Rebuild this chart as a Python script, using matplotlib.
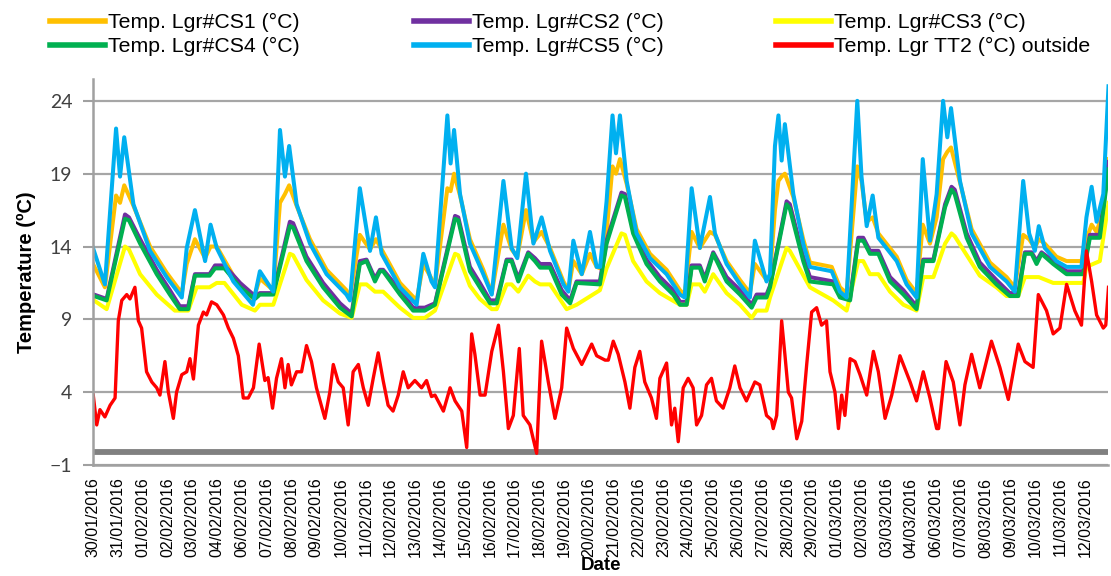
import matplotlib.pyplot as plt
from matplotlib.lines import Line2D

# x in days after the 30/01/2016 tick (one category tick per label)
date_labels = ["30/01/2016", "31/01/2016", "01/02/2016", "02/02/2016", "03/02/2016",
               "04/02/2016", "06/02/2016", "07/02/2016", "08/02/2016", "09/02/2016",
               "10/02/2016", "11/02/2016", "12/02/2016", "13/02/2016", "14/02/2016",
               "15/02/2016", "16/02/2016", "17/02/2016", "18/02/2016", "19/02/2016",
               "20/02/2016", "21/02/2016", "22/02/2016", "23/02/2016", "24/02/2016",
               "25/02/2016", "26/02/2016", "27/02/2016", "28/02/2016", "29/02/2016",
               "01/03/2016", "02/03/2016", "03/03/2016", "04/03/2016", "06/03/2016",
               "07/03/2016", "08/03/2016", "09/03/2016", "10/03/2016", "11/03/2016",
               "12/03/2016"]

# CS5 (blue) and CS1 (orange) share the same sample times
t_cs15 = [0.00, 0.48, 0.93, 1.09, 1.26, 1.63, 2.30, 2.97, 3.58, 3.78, 4.11, 4.52, 4.74, 4.99,
          5.66, 6.45, 6.73, 7.27, 7.54, 7.74, 7.91, 8.21, 8.75, 9.42, 10.22, 10.36, 10.76,
          11.17, 11.41, 11.64, 12.38, 13.05, 13.32, 13.65, 13.79, 14.29, 14.42, 14.56, 14.80,
          15.20, 15.74, 16.08, 16.55, 16.88, 17.11, 17.46, 17.76, 18.09, 18.43, 18.97, 19.17,
          19.37, 19.71, 20.04, 20.31, 20.45, 20.71, 20.95, 21.09, 21.25, 21.52, 21.92, 22.46,
          23.13, 23.67, 23.86, 24.14, 24.47, 24.88, 25.08, 25.55, 26.09, 26.49, 26.69, 27.16,
          27.30, 27.50, 27.64, 27.77, 27.90, 28.24, 28.64, 28.91, 29.79, 30.12, 30.39, 30.82,
          30.99, 31.20, 31.44, 31.67, 32.41, 32.81, 33.21, 33.46, 33.75, 34.02, 34.28, 34.45,
          34.60, 34.96, 35.43, 36.17, 36.84, 37.17, 37.51, 37.75, 37.98, 38.14, 38.38, 38.85,
          39.26, 39.86, 40.06, 40.27, 40.47, 40.74, 40.95]
cs5 = [13.9, 11.4, 22.1, 18.8, 21.5, 16.9, 13.7, 11.9, 10.5, 13.9, 16.5, 13.0, 15.5, 13.9,
       11.6, 10.0, 12.3, 10.9, 22.0, 18.8, 20.9, 16.9, 14.2, 12.1, 10.7, 10.3, 18.0,
       13.7, 16.0, 13.5, 11.2, 10.0, 13.5, 11.6, 11.2, 23.0, 19.7, 22.0, 17.6,
       14.2, 12.1, 10.7, 18.5, 13.9, 13.2, 19.0, 14.2, 16.0, 13.7, 11.4, 10.9,
       14.4, 12.1, 15.0, 12.6, 12.6, 17.1, 23.0, 20.4, 23.0, 18.5, 14.9, 13.2,
       12.1, 10.7, 10.5, 18.0, 13.9, 17.4, 14.9, 12.8, 11.4, 10.5, 14.4, 11.6,
       12.1, 20.9, 23.0, 19.9, 22.4, 17.6, 14.2, 12.6, 12.3, 10.9, 10.5, 24.0,
       18.8, 15.4, 17.5, 14.6, 13.0, 11.4, 10.5, 20.0, 14.4, 17.6, 24.0, 21.5,
       23.5, 18.5, 14.9, 12.6, 11.6, 10.9, 18.5, 14.9, 13.7, 15.4, 13.9, 13.0,
       12.6, 12.6, 16.0, 18.1, 15.7, 17.6, 25.0]
cs1 = [12.8, 11.2, 17.5, 17.0, 18.2, 16.8, 14.0, 12.2, 10.8, 12.8, 14.5, 13.2, 14.0, 14.0,
       12.0, 10.3, 11.8, 11.0, 17.0, 17.6, 18.2, 16.8, 14.5, 12.4, 11.0, 10.5, 14.8,
       13.8, 14.5, 13.8, 11.5, 10.3, 12.8, 11.8, 11.3, 18.0, 17.8, 19.0, 17.5,
       14.5, 12.4, 10.8, 15.5, 13.8, 13.3, 16.5, 14.3, 15.0, 13.9, 11.6, 11.0,
       13.0, 12.1, 13.5, 12.6, 12.5, 15.0, 19.5, 19.0, 20.0, 18.3, 15.2, 13.5,
       12.4, 11.0, 10.7, 15.0, 13.9, 15.0, 14.8, 13.0, 11.7, 10.8, 12.8, 11.7,
       12.0, 16.5, 18.5, 18.8, 19.0, 17.4, 14.5, 12.9, 12.6, 11.2, 10.8, 19.5,
       18.5, 15.7, 16.0, 14.9, 13.3, 11.7, 10.8, 15.5, 14.2, 16.0, 20.0, 20.5,
       20.8, 18.4, 15.2, 12.9, 11.9, 11.2, 14.8, 14.5, 13.9, 14.5, 14.2, 13.3,
       13.0, 13.0, 14.5, 15.5, 15.0, 16.5, 20.0]

# CS4 (green) and CS2 (purple)
t_cs24 = [0.04, 0.55, 1.29, 1.45, 1.90, 2.57, 3.10, 3.50, 3.84, 4.11, 4.70, 4.92, 5.30, 5.93,
          6.53, 6.73, 7.27, 7.94, 8.07, 8.61, 9.28, 9.96, 10.43, 10.76, 11.03, 11.37, 11.57,
          11.70, 12.38, 12.91, 13.38, 13.79, 14.60, 14.73, 15.20, 15.60, 16.01, 16.28, 16.68,
          16.88, 17.15, 17.55, 17.82, 18.03, 18.43, 18.90, 19.24, 19.50, 20.44, 20.71, 21.31,
          21.45, 21.78, 22.32, 22.86, 23.40, 23.67, 23.94, 24.14, 24.47, 24.67, 25.01, 25.55,
          26.09, 26.56, 26.76, 27.16, 27.30, 27.97, 28.10, 28.64, 28.91, 29.85, 30.12, 30.53,
          30.86, 31.06, 31.33, 31.67, 32.14, 32.68, 33.21, 33.48, 33.89, 34.36, 34.62, 34.75,
          35.23, 35.76, 36.43, 36.97, 37.31, 37.58, 37.85, 38.05, 38.25, 38.72, 39.26, 39.93,
          40.20, 40.60, 40.95]
cs4 = [10.6, 10.3, 15.9, 15.8, 14.2, 12.1, 10.7, 9.7, 9.7, 12.0, 12.0, 12.5, 12.5, 11.2,
       10.4, 10.7, 10.7, 15.4, 15.3, 13.0, 11.2, 9.8, 9.2, 12.8, 13.0, 11.6, 12.3,
       12.3, 10.7, 9.6, 9.6, 10.0, 15.9, 15.8, 12.3, 11.2, 10.1, 10.1, 13.0,
       13.0, 11.6, 13.5, 13.0, 12.55, 12.55, 10.7, 10.1, 11.5, 11.4, 14.2, 17.5,
       17.4, 14.9, 12.8, 11.6, 10.7, 10.0, 10.0, 12.55, 12.55, 11.6, 13.5, 11.6,
       10.7, 9.8, 10.5, 10.5, 11.2, 16.9, 16.6, 13.0, 11.6, 11.4, 10.5, 10.3,
       14.4, 14.4, 13.5, 13.5, 11.6, 10.7, 9.7, 13.0, 13.0, 16.7, 17.9, 17.6,
       14.6, 12.6, 11.4, 10.6, 10.6, 13.5, 13.5, 12.8, 13.5, 12.8, 12.1, 12.1,
       14.6, 14.6, 19.3]
cs2 = [10.7, 10.4, 16.2, 16.0, 14.5, 12.4, 11.0, 9.9, 9.9, 12.1, 12.1, 12.7, 12.7, 11.5,
       10.6, 10.8, 10.8, 15.7, 15.6, 13.3, 11.5, 10.1, 9.4, 13.0, 13.1, 11.8, 12.4,
       12.4, 11.0, 9.8, 9.8, 10.1, 16.1, 16.0, 12.6, 11.5, 10.3, 10.3, 13.1,
       13.1, 11.8, 13.6, 13.2, 12.8, 12.8, 11.0, 10.3, 11.6, 11.6, 14.4, 17.7,
       17.6, 15.2, 13.1, 11.9, 11.0, 10.2, 10.2, 12.7, 12.7, 11.8, 13.6, 11.9,
       11.0, 10.0, 10.7, 10.7, 11.3, 17.1, 16.9, 13.3, 11.9, 11.6, 10.7, 10.5,
       14.6, 14.6, 13.7, 13.7, 11.9, 11.0, 9.9, 13.1, 13.1, 16.9, 18.1, 17.9,
       14.9, 12.9, 11.7, 10.8, 10.8, 13.6, 13.6, 13.0, 13.6, 13.0, 12.3, 12.3,
       14.8, 14.8, 19.8]

# CS3 (yellow)
t_cs3 = [0.04, 0.55, 1.29, 1.45, 1.90, 2.57, 3.30, 3.84, 4.18, 4.70, 4.99, 5.30, 6.00, 6.53,
         6.73, 7.27, 7.94, 8.07, 8.61, 9.28, 9.96, 10.43, 10.76, 11.03, 11.37, 11.70, 12.38,
         12.91, 13.38, 13.79, 14.60, 14.73, 15.20, 15.60, 16.08, 16.28, 16.68, 16.88, 17.15,
         17.55, 17.82, 18.03, 18.43, 19.10, 19.50, 20.44, 20.71, 21.31, 21.45, 21.78, 22.32,
         22.86, 23.67, 23.94, 24.14, 24.47, 24.67, 25.01, 25.55, 26.09, 26.56, 26.76, 27.16,
         27.30, 27.97, 28.10, 28.91, 29.85, 30.39, 30.86, 31.06, 31.33, 31.67, 32.14, 32.68,
         33.21, 33.48, 33.89, 34.36, 34.62, 34.75, 35.76, 36.43, 36.84, 37.31, 37.58, 38.14,
         38.72, 39.93, 40.06, 40.60, 40.95]
cs3 = [10.3, 9.7, 14.0, 13.8, 12.1, 10.7, 9.6, 9.6, 11.2, 11.2, 11.5, 11.5, 10.0, 9.6,
       10.0, 10.0, 13.5, 13.4, 11.7, 10.3, 9.4, 9.1, 11.4, 11.4, 10.9, 10.9, 9.8,
       9.1, 9.1, 9.6, 13.5, 13.4, 11.3, 10.4, 9.7, 9.7, 11.4, 11.4, 10.9,
       12.0, 11.6, 11.4, 11.4, 9.7, 10.0, 11.0, 12.5, 14.9, 14.8, 13.0, 11.6,
       10.8, 10.0, 10.0, 11.4, 11.4, 10.9, 12.1, 10.8, 10.0, 9.1, 9.6, 9.6,
       10.5, 13.9, 13.7, 11.2, 10.3, 9.6, 13.0, 13.0, 12.1, 12.1, 10.9, 10.0,
       9.6, 11.9, 11.9, 14.2, 14.9, 14.7, 12.0, 11.2, 10.6, 10.6, 11.9, 11.9,
       11.5, 11.5, 12.6, 13.0, 17.0]

# TT2 outside (red)
t_out = [0.01, 0.15, 0.28, 0.48, 0.69, 0.89, 1.02, 1.16, 1.36, 1.49, 1.69, 1.83, 1.96, 2.16,
         2.37, 2.57, 2.70, 2.90, 3.04, 3.24, 3.37, 3.58, 3.78, 3.91, 4.05, 4.25, 4.45, 4.58,
         4.78, 4.99, 5.26, 5.46, 5.66, 5.86, 6.06, 6.26, 6.47, 6.70, 6.93, 7.06, 7.24, 7.40,
         7.60, 7.74, 7.87, 8.00, 8.21, 8.41, 8.61, 8.81, 9.01, 9.35, 9.55, 9.69, 9.89, 10.09,
         10.29, 10.49, 10.70, 10.90, 11.10, 11.30, 11.50, 11.70, 11.90, 12.10, 12.31, 12.51,
         12.71, 12.98, 13.25, 13.45, 13.65, 13.79, 14.13, 14.40, 14.60, 14.87, 15.07, 15.27,
         15.40, 15.61, 15.81, 16.08, 16.35, 16.55, 16.75, 16.95, 17.19, 17.35, 17.62, 17.89,
         18.09, 18.36, 18.63, 18.90, 19.10, 19.37, 19.71, 20.11, 20.31, 20.65, 20.78, 20.98,
         21.18, 21.45, 21.65, 21.85, 22.05, 22.25, 22.52, 22.72, 22.86, 23.13, 23.33, 23.46,
         23.60, 23.80, 24.00, 24.20, 24.34, 24.54, 24.74, 24.94, 25.14, 25.41, 25.68, 25.88,
         26.09, 26.35, 26.69, 26.89, 27.16, 27.36, 27.43, 27.57, 27.77, 27.90, 28.04, 28.17,
         28.38, 28.58, 28.78, 28.98, 29.18, 29.38, 29.58, 29.72, 29.92, 30.06, 30.19, 30.32,
         30.53, 30.73, 30.93, 31.20, 31.47, 31.67, 31.94, 32.21, 32.54, 32.95, 33.21, 33.48,
         33.75, 34.02, 34.10, 34.40, 34.69, 34.96, 35.16, 35.43, 35.76, 36.23, 36.57, 36.91,
         37.31, 37.58, 37.91, 38.12, 38.45, 38.72, 38.99, 39.26, 39.59, 39.86, 40.06, 40.27,
         40.47, 40.74, 40.84, 40.95]
tt2 = [3.8, 1.75, 2.8, 2.3, 3.1, 3.6, 8.9, 10.3, 10.7, 10.4, 11.2, 8.9, 8.4, 5.4,
       4.7, 4.3, 3.8, 6.1, 4.0, 2.2, 4.0, 5.2, 5.4, 6.3, 4.9, 8.6, 9.5, 9.3,
       10.2, 10.0, 9.3, 8.4, 7.7, 6.5, 3.6, 3.6, 4.3, 7.3, 4.8, 5.0, 2.9, 4.95,
       6.3, 4.3, 5.9, 4.5, 5.4, 5.4, 7.2, 6.1, 4.3, 2.2, 4.0, 5.9, 4.7, 4.3,
       1.75, 5.4, 5.9, 4.3, 3.1, 4.95, 6.7, 4.8, 3.1, 2.7, 3.8, 5.4,
       4.3, 4.8, 4.3, 4.8, 3.7, 3.8, 2.7, 4.3, 3.4, 2.7, 0.2, 8.0,
       6.6, 3.8, 3.8, 6.8, 8.6, 5.4, 1.5, 2.4, 7.0, 2.4, 1.75, -0.2,
       7.5, 4.7, 2.2, 4.3, 8.4, 7.0, 5.9, 7.3, 6.5, 6.2, 6.2, 7.5,
       6.6, 4.7, 2.9, 5.7, 6.8, 4.7, 3.6, 2.2, 4.95, 6.0, 1.75, 2.9,
       0.6, 4.3, 4.95, 4.3, 1.75, 2.4, 4.5, 4.95, 3.4, 2.9, 4.3, 5.8,
       4.3, 3.4, 4.7, 4.5, 2.4, 2.1, 1.5, 2.4, 8.9, 6.6, 4.0, 3.6,
       0.8, 2.0, 5.9, 9.5, 9.8, 8.6, 8.9, 5.4, 4.0, 1.5, 3.8, 2.4,
       6.3, 6.1, 5.2, 3.8, 6.8, 5.4, 2.2, 3.8, 6.5, 4.7, 3.4, 5.4,
       3.6, 1.5, 1.5, 6.1, 4.7, 1.75, 4.5, 6.6, 4.3, 7.5, 5.7, 3.5,
       7.3, 6.1, 5.7, 10.7, 9.6, 8.0, 8.4, 11.4, 9.6, 8.6, 13.7, 11.6,
       9.3, 8.4, 8.6, 11.2]

# flat grey series near zero
t_base = [0.0, 40.95]
base = [-0.1, -0.1]

assert len(t_cs15) == len(cs5) == len(cs1)
assert len(t_cs24) == len(cs4) == len(cs2)
assert len(t_cs3) == len(cs3)
assert len(t_out) == len(tt2)

narrow = ["Liberation Sans Narrow", "Liberation Sans"]

fig = plt.figure(figsize=(11.11, 5.76), dpi=100)
ax = fig.add_axes([93 / 1111, 1 - 465 / 576, (1108 - 93) / 1111, (465 - 79) / 576])

lw = 2.9
ax.plot(t_base, base, color="#808080", lw=4.2)
ax.plot(t_cs15, cs1, color="#FFC000", lw=lw, label="Temp. Lgr#CS1 (°C)")
ax.plot(t_cs24, cs2, color="#7030A0", lw=lw, label="Temp. Lgr#CS2 (°C)")
ax.plot(t_cs3, cs3, color="#FFFF00", lw=lw, label="Temp. Lgr#CS3 (°C)")
ax.plot(t_cs24, cs4, color="#00B050", lw=lw, label="Temp. Lgr#CS4 (°C)")
ax.plot(t_cs15, cs5, color="#00B0F0", lw=lw, label="Temp. Lgr#CS5 (°C)")
ax.plot(t_out, tt2, color="#FF0000", lw=2.4, label="Temp. Lgr TT2 (°C) outside")

ax.set_xlim(0, 40.93)
ax.set_ylim(-1, 25.5)
ax.set_yticks([-1, 4, 9, 14, 19, 24])
ax.set_xticks(range(len(date_labels)))
ax.set_xticklabels(date_labels, rotation=90, fontsize=11.5, family=narrow)
for lab in ax.get_yticklabels():
    lab.set_family("Lato")
    lab.set_fontsize(14)
    lab.set_color("#404040")
ax.tick_params(axis="x", length=0, pad=9)
ax.tick_params(axis="y", length=7, width=1.5, color="#a0a0a0", pad=8)

ax.grid(axis="y", color="#a6a6a6", lw=1.6)
ax.set_axisbelow(True)
for s in ["top", "right"]:
    ax.spines[s].set_visible(False)
ax.spines["left"].set_color("#a0a0a0")
ax.spines["left"].set_linewidth(1.8)
ax.spines["bottom"].set_color("#a0a0a0")
ax.spines["bottom"].set_linewidth(1.8)

ax.set_ylabel("Temperature (ºC)", fontsize=14.5, fontweight="bold", family=narrow, labelpad=10)
ax.set_xlabel("Date", fontsize=13.5, fontweight="bold", family="Liberation Sans", labelpad=0)

# legend: three columns of two entries each
handles, labels = ax.get_legend_handles_labels()
col_x = [50 / 1111, 414 / 1111, 776 / 1111]
for i, x0 in enumerate(col_x):
    h = [handles[i], handles[i + 3]]
    l = [labels[i], labels[i + 3]]
    h = [Line2D([], [], color=hh.get_color(), lw=4) for hh in h]
    fig.legend(h, l, loc="upper left", bbox_to_anchor=(x0, 1 - 13 / 576), frameon=False,
               borderpad=0, borderaxespad=0, handlelength=2.6, handletextpad=0.15,
               labelspacing=0.25, prop={"family": narrow, "size": 15.3})

fig.savefig("out.png", dpi=100)
